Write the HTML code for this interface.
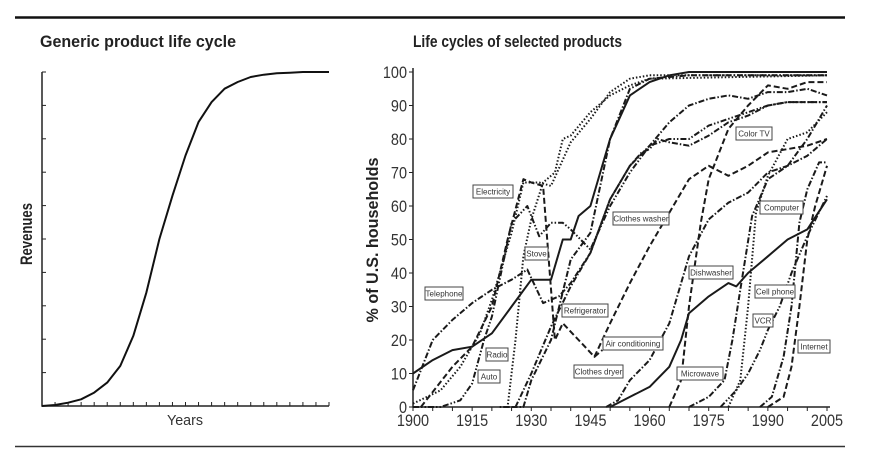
<!DOCTYPE html>
<html><head><meta charset="utf-8"><style>
html,body{margin:0;padding:0;background:#fff;}
svg{display:block;font-family:"Liberation Sans Narrow","Liberation Sans",sans-serif;}
</style></head><body>
<svg id="c" width="871" height="461" viewBox="0 0 871 461">
<line x1="15" y1="17.5" x2="845" y2="17.5" stroke="#111" stroke-width="2.5"/>
<line x1="15" y1="446.5" x2="845" y2="446.5" stroke="#333" stroke-width="1.5"/>
<text x="40" y="47" font-size="17" font-weight="bold" fill="#222" textLength="196" lengthAdjust="spacingAndGlyphs">Generic product life cycle</text>
<text x="413" y="47" font-size="17" font-weight="bold" fill="#222" textLength="209" lengthAdjust="spacingAndGlyphs">Life cycles of selected products</text>
<text transform="translate(32,234) rotate(-90)" text-anchor="middle" font-size="17" font-weight="bold" fill="#222" textLength="62" lengthAdjust="spacingAndGlyphs">Revenues</text>
<text x="185" y="425" text-anchor="middle" font-size="15" fill="#333" textLength="36" lengthAdjust="spacingAndGlyphs">Years</text>
<text transform="translate(378,240) rotate(-90)" text-anchor="middle" font-size="17" font-weight="bold" fill="#222" textLength="165" lengthAdjust="spacingAndGlyphs">% of U.S. households</text>
<g id="left"></g>
<g id="right"></g>
</svg>
<script>
const genericValues=[0,0.3,1,2,4,7,12,21,34,50,63,75,85,91,95,97,98.5,99.2,99.6,99.8,100,100,100];
const yTicks=[0,10,20,30,40,50,60,70,80,90,100];
const xTicks=[1900,1915,1930,1945,1960,1975,1990,2005];

const telephoneYears=[1900,1905,1910,1915,1920,1925,1929,1933,1937,1940,1945,1950,1955,1960,1965,1970,1975,1980,1985,1990,1995,2000,2005];
const telephoneValues=[5,20,26,31,35,38,41,31,33,37,46,62,72,78,85,90,92,93,92,94,94,95,93];
const electricityYears=[1900,1907,1912,1917,1920,1925,1928,1932,1935,1940,1945,1950,1955,1960,1970,2005];
const electricityValues=[1,5,12,22,32,52,67,67,66,79,86,94,98,99,99,99];
const radioYears=[1922,1924,1926,1928,1930,1933,1936,1938,1940,1945,1950,1955,1960,2005];
const radioValues=[0,0,20,45,56,67,70,80,81,88,93,96,98,99];
const autoYears=[1900,1907,1912,1915,1918,1920,1925,1929,1932,1935,1938,1940,1945,1950,1955,1960,1965,1970,1975,1980,1985,1990,1995,2005];
const autoValues=[0,0,2,7,20,27,55,60,51,55,55,53,47,60,70,78,80,80,84,86,88,90,91,91];
const stoveYears=[1900,1905,1910,1915,1920,1925,1930,1935,1938,1940,1942,1945,1950,1955,1960,1965,1970,2005];
const stoveValues=[10,14,17,18,22,30,38,38,50,50,57,60,80,93,97,99,100,100];
const refrigeratorYears=[1925,1928,1930,1935,1940,1945,1950,1955,1960,1970,2005];
const refrigeratorValues=[0,0,8,20,44,52,80,95,98,99,99];
const washerYears=[1923,1926,1930,1935,1940,1945,1950,1955,1958,1960,1962,1965,1970,1975,1980,1985,1990,1995,2005];
const washerValues=[0,0,10,24,36,46,62,72,76,77,80,79,78,81,85,87,90,91,91];
const radio2Years=[1902,1906,1910,1915,1920,1924,1928,1930,1933,1936,1938,1942,1946,1948];
const radio2Values=[0,6,12,18,30,50,68,67,66,20,25,20,15,17];
const airYears=[1946,1950,1955,1960,1965,1970,1975,1980,1985,1990,1995,2000,2005];
const airValues=[15,25,37,48,58,68,72,69,72,76,77,78,80];
const dryerYears=[1949,1952,1955,1960,1965,1970,1975,1980,1985,1990,1995,2000,2005];
const dryerValues=[0,2,8,14,25,45,56,61,64,70,72,75,80];
const dishwasherYears=[1950,1955,1960,1965,1968,1970,1975,1980,1982,1985,1990,1995,2000,2005];
const dishwasherValues=[0,3,6,12,20,28,33,37,36,40,45,50,53,62];
const colorTvYears=[1965,1968,1970,1973,1975,1980,1985,1990,1995,2000,2005];
const colorTvValues=[0,8,30,55,68,83,90,96,95,97,97];
const microwaveYears=[1970,1975,1979,1981,1983,1986,1990,1995,2000,2005];
const microwaveValues=[0,3,8,20,35,57,68,72,80,90];
const vcrYears=[1980,1983,1985,1987,1990,1995,2000,2005];
const vcrValues=[0,8,30,58,69,80,82,88];
const computerYears=[1978,1982,1985,1988,1990,1993,1996,2000,2005];
const computerValues=[0,5,10,17,23,30,40,51,63];
const cellYears=[1988,1991,1994,1996,1998,2000,2003,2005];
const cellValues=[0,3,15,30,55,65,73,73];
const internetYears=[1990,1994,1996,1998,2000,2002,2005];
const internetValues=[0,3,12,30,50,60,72];

const NS="http://www.w3.org/2000/svg";
function mk(tag,attrs,parent){const e=document.createElementNS(NS,tag);for(const k in attrs)e.setAttribute(k,attrs[k]);parent.appendChild(e);return e;}
const L=document.getElementById('left');
const lx=i=>42+i*(287/22), ly=v=>406-v*3.34;
const la=mk('path',{d:'M42,72 V406 H329',fill:'none',stroke:'#222','stroke-width':1.5},L);


for(let i=0;i<=10;i++){const t=mk('line',{x1:42,x2:46,y1:406-i*33.4,y2:406-i*33.4,stroke:'#222','stroke-width':1},L);

}
for(let i=0;i<=22;i++){const t=mk('line',{x1:lx(i),x2:lx(i),y1:406,y2:402,stroke:'#222','stroke-width':1},L);

}
const gp=mk('path',{d:genericValues.map((v,i)=>(i?'L':'M')+lx(i).toFixed(1)+','+ly(v).toFixed(1)).join(''),fill:'none',stroke:'#111','stroke-width':2,'stroke-linejoin':'round'},L);


const R=document.getElementById('right');
const X=y=>413+(y-1900)*(414/105), Y=v=>407-v*3.35;
const ra=mk('path',{d:'M413,68 V407 H830',fill:'none',stroke:'#222','stroke-width':1.5},R);


yTicks.forEach(v=>{const t=mk('line',{x1:409,x2:413,y1:Y(v),y2:Y(v),stroke:'#222'},R);


const tx=mk('text',{x:407,y:Y(v)+6,'text-anchor':'end','font-size':17,fill:'#333',transform:'translate(407,0) scale(0.85,1) translate(-407,0)'},R);tx.textContent=v;

});
for(let yr=1900;yr<=2005;yr+=5){const t=mk('line',{x1:X(yr),x2:X(yr),y1:407,y2:411,stroke:'#222'},R);

}
xTicks.forEach(yr=>{const tx=mk('text',{x:X(yr),y:426,'text-anchor':'middle','font-size':17,fill:'#333',transform:'translate('+X(yr)+',0) scale(0.85,1) translate('+(-X(yr))+',0)'},R);tx.textContent=yr;

});
const DOT='1.5 2',DASH='6 3',DD='6 2 1.5 2',DDD='6 2 1.5 2 1.5 2';
const series=[
['telephone-line',telephoneYears,telephoneValues,DD],
['electricity-line',electricityYears,electricityValues,DOT],
['radio-line',radioYears,radioValues,DOT],
['auto-line',autoYears,autoValues,DDD],
['stove-line',stoveYears,stoveValues,null],
['refrigerator-line',refrigeratorYears,refrigeratorValues,DD],
['clothes-washer-line',washerYears,washerValues,DD],
['radio-early-line',radio2Years,radio2Values,DASH],
['air-conditioning-line',airYears,airValues,DASH],
['clothes-dryer-line',dryerYears,dryerValues,DD],
['dishwasher-line',dishwasherYears,dishwasherValues,null],
['color-tv-line',colorTvYears,colorTvValues,DASH],
['microwave-line',microwaveYears,microwaveValues,DD],
['vcr-line',vcrYears,vcrValues,DOT],
['computer-line',computerYears,computerValues,DDD],
['cell-phone-line',cellYears,cellValues,DD],
['internet-line',internetYears,internetValues,DASH]];
series.forEach(s=>{const a={d:s[1].map((yr,i)=>(i?'L':'M')+X(yr).toFixed(1)+','+Y(s[2][i]).toFixed(1)).join(''),fill:'none',stroke:'#1a1a1a','stroke-width':2,'stroke-linejoin':'round'};
if(s[3])a['stroke-dasharray']=s[3];
const p=mk('path',a,R);

});
const labels=[['Electricity',473,185,40],['Stove',525,247,23],['Telephone',425,287,38],['Refrigerator',562,304,46],['Radio',486,348,22],['Auto',478,370,22],['Clothes washer',613,212,56],['Air conditioning',603,337,60],['Clothes dryer',574,365,49],['Dishwasher',689,266,44],['Microwave',677,367,46],['Color TV',736,127,36],['Computer',760,201,43],['Cell phone',755,285,40],['VCR',753,314,20],['Internet',798,340,32]];
labels.forEach(l=>{const g=mk('g',{},R);


mk('rect',{x:l[1],y:l[2],width:l[3],height:13,fill:'#fff',stroke:'#444','stroke-width':1},g);
const t=mk('text',{x:l[1]+l[3]/2,y:l[2]+9.5,'text-anchor':'middle','font-size':8,fill:'#333'},g);t.textContent=l[0];});
</script>
</body></html>
